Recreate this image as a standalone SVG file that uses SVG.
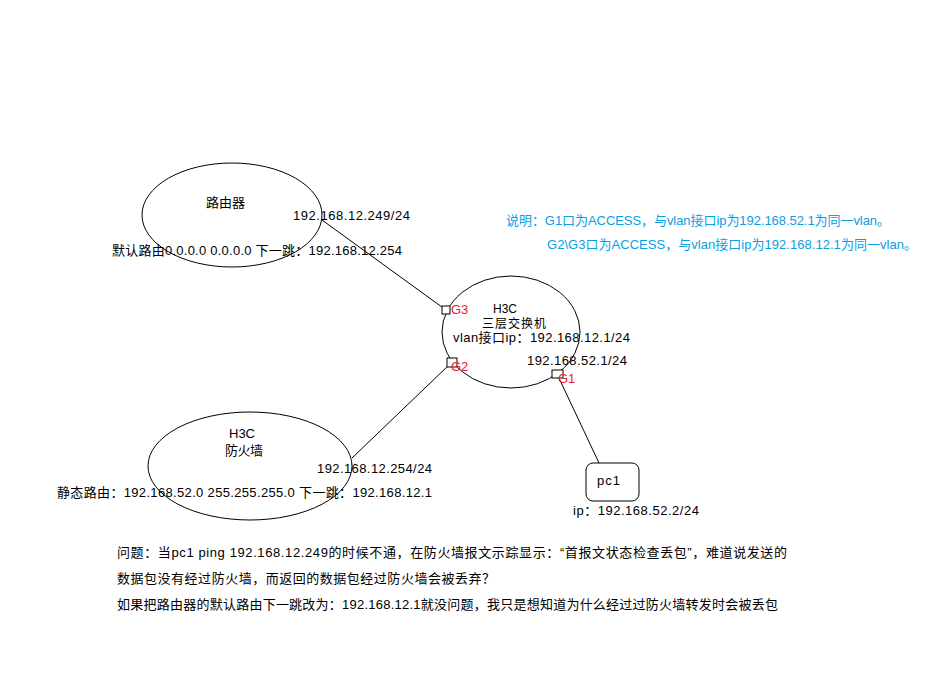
<svg xmlns="http://www.w3.org/2000/svg" width="935" height="677" viewBox="0 0 935 677">
<style>
text{font-family:"Liberation Sans","Noto Sans CJK SC",sans-serif;font-size:13px;fill:#000}
.sm{font-size:12px}
.blue{fill:#0a9ee4}
.red{fill:#e8202a}
.shape{fill:none;stroke:#000;stroke-width:1}
.port{fill:#fff;stroke:#000;stroke-width:1}
.conn{stroke:#000;stroke-width:1;fill:none}
</style>
<rect width="935" height="677" fill="#fff"/>
<g id="connectors">
<line class="conn" x1="322" y1="220" x2="446" y2="310"/>
<line class="conn" x1="352" y1="458" x2="450" y2="364"/>
<line class="conn" x1="558" y1="376" x2="599" y2="463"/>
</g>
<g id="router">
<ellipse class="shape" cx="232" cy="215" rx="90" ry="52"/>
<text x="206" y="207" textLength="39">路由器</text>
<text x="293" y="220" textLength="117">192.168.12.249/24</text>
<text x="112" y="255" textLength="290">默认路由0.0.0.0 0.0.0.0 下一跳：192.168.12.254</text>
</g>
<g id="switch">
<ellipse class="shape" cx="511" cy="332" rx="69" ry="56"/>
<text class="sm" x="493" y="313">H3C</text>
<text class="sm" x="482" y="328" textLength="64">三层交换机</text>
<text x="453" y="342" textLength="177">vlan接口ip：192.168.12.1/24</text>
<text x="527" y="365" textLength="100">192.168.52.1/24</text>
<rect class="port" x="442" y="306" width="8" height="8"/>
<rect class="port" x="447" y="358" width="10" height="9"/>
<rect class="port" x="552" y="370" width="11" height="8"/>
<text class="red" x="451" y="314">G3</text>
<text class="red" x="451" y="371">G2</text>
<text class="red" x="558" y="383">G1</text>
</g>
<g id="firewall">
<ellipse class="shape" cx="250" cy="466" rx="102" ry="54"/>
<text x="229" y="438">H3C</text>
<text x="225" y="455" textLength="38">防火墙</text>
<text x="317" y="473" textLength="115">192.168.12.254/24</text>
<text x="57" y="497" textLength="375">静态路由：192.168.52.0 255.255.255.0 下一跳：192.168.12.1</text>
</g>
<g id="pc1">
<rect class="shape" x="586" y="463" width="53" height="38" rx="7"/>
<text x="597" y="485" textLength="23">pc1</text>
<text x="573" y="515" textLength="126">ip：192.168.52.2/24</text>
</g>
<g id="note">
<text class="blue" x="506" y="225" textLength="384">说明：G1口为ACCESS，与vlan接口ip为192.168.52.1为同一vlan。</text>
<text class="blue" x="547" y="249" textLength="370">G2\G3口为ACCESS，与vlan接口ip为192.168.12.1为同一vlan。</text>
</g>
<g id="question">
<text x="117" y="557" textLength="670">问题：当pc1 ping 192.168.12.249的时候不通，在防火墙报文示踪显示：“首报文状态检查丢包”，难道说发送的</text>
<text x="117" y="583" textLength="378">数据包没有经过防火墙，而返回的数据包经过防火墙会被丢弃？</text>
<text x="117" y="609" textLength="661">如果把路由器的默认路由下一跳改为：192.168.12.1就没问题，我只是想知道为什么经过过防火墙转发时会被丢包</text>
</g>
</svg>
